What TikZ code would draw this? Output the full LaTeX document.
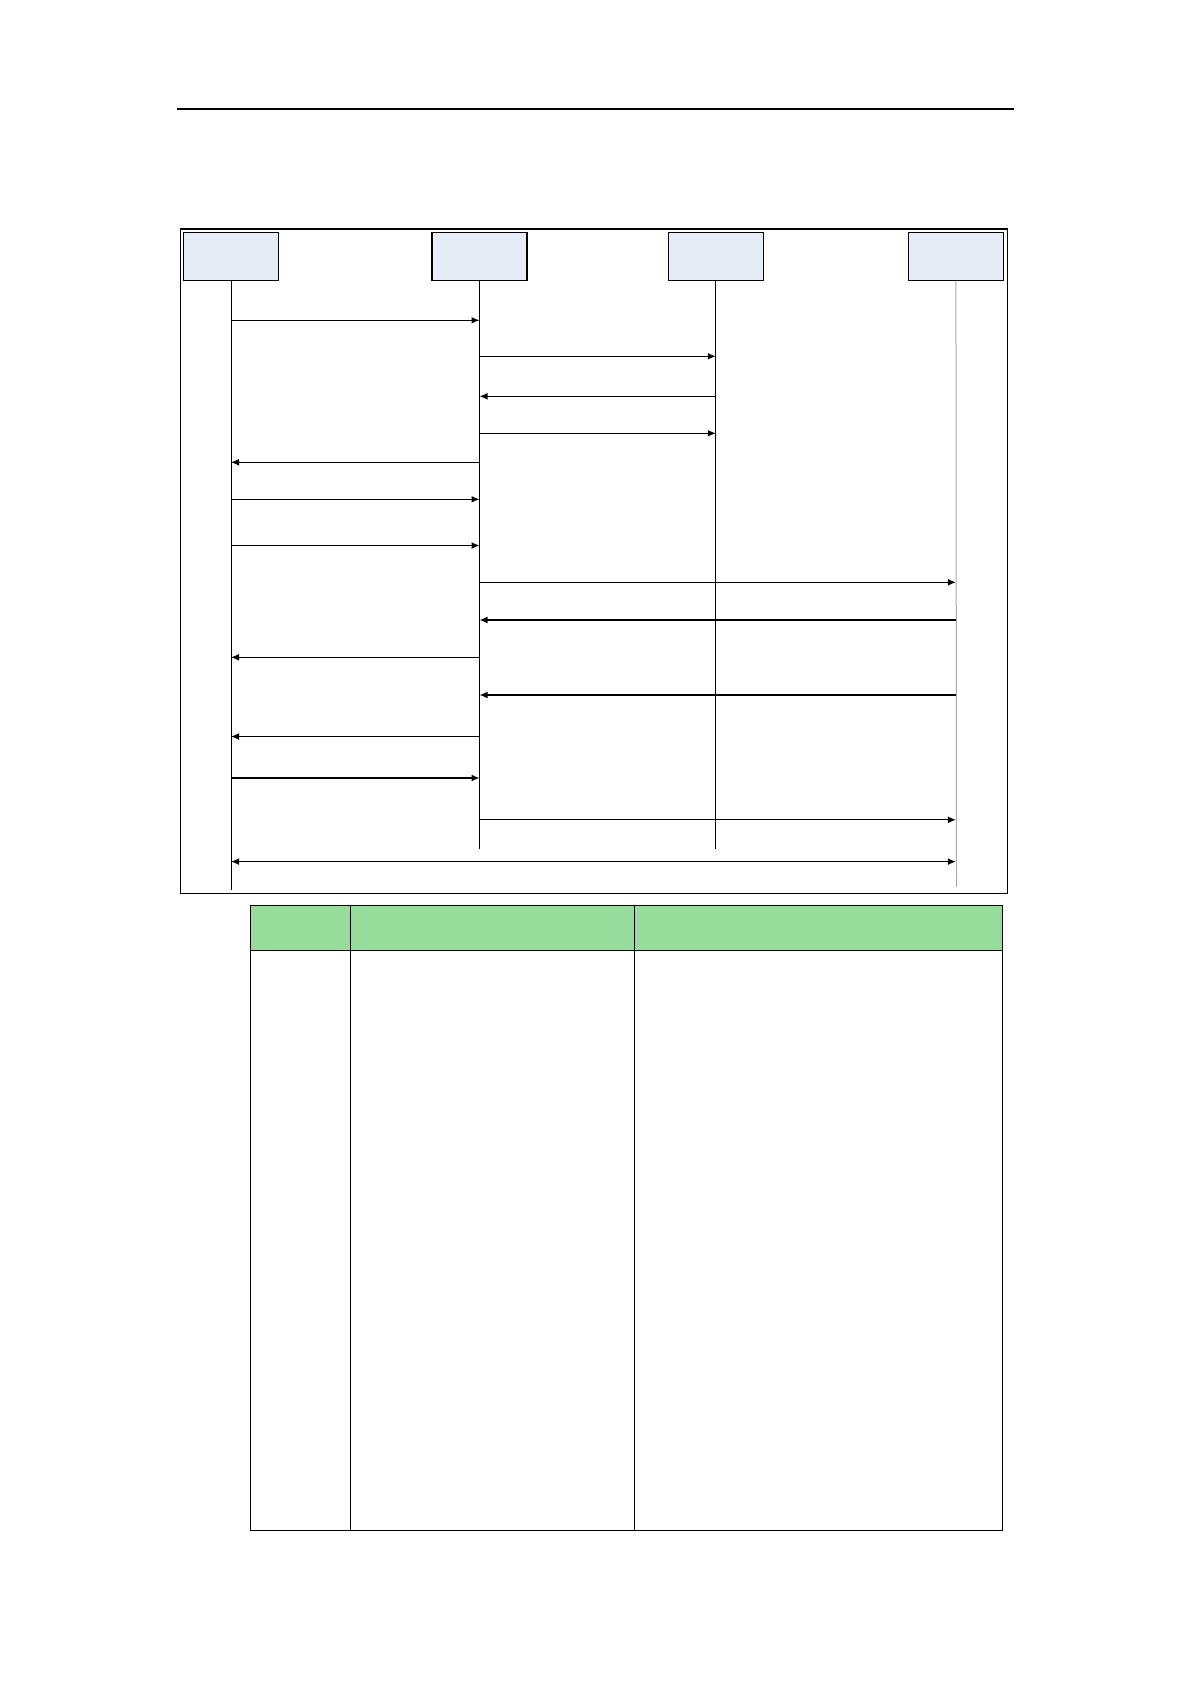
\documentclass[tikz,border=0pt]{standalone}
\usepackage{tikz}
\usetikzlibrary{calc, positioning, arrows.meta}
\usepackage{xcolor}
\definecolor{headBox}{RGB}{230, 236, 246}
\definecolor{headRow}{RGB}{150, 221, 156}
\definecolor{lifeGray}{RGB}{170, 170, 170}

\begin{document}
\begin{tikzpicture}[x=0.5pt, y=-0.5pt, >={Latex[length=4pt, width=3.4pt]},
    actor/.style={draw, line width=0.65pt, fill=headBox, inner sep=0pt,
                  minimum width=47.5pt, minimum height=24pt},
    life/.style={line width=0.5pt},
    msg/.style={->, line width=0.6pt}]
  \useasboundingbox (0,0) rectangle (1191,1684);

  % Page rule
  \draw[line width=0.6pt] (177,109) -- (1014,109);

  % Frame
  \draw[line width=0.55pt] (180.5,229) rectangle (1007.5,893.5);

  % Actors
  \node[actor] (h1) at (231,256.3) {};
  \node[actor] (h2) at (479.5,256.3) {};
  \node[actor] (h3) at (715.8,256.3) {};
  \node[actor] (h4) at (955.9,256.3) {};

  % Lifelines
  \coordinate (e1) at (231,890);
  \coordinate (e2) at (479.5,849);
  \coordinate (e3) at (715.8,849);
  \coordinate (e4) at (956.5,887);
  \draw[life] (h1) -- (e1);
  \draw[life] (h2) -- (e2);
  \draw[life] (h3) -- (e3);
  \draw[life, lifeGray] (h4) -- (e4);

  % Messages
  \draw[msg] (h1 |- 0,320.3) -- (h2 |- 0,320.3);
  \draw[msg] (h2 |- 0,356.3) -- (h3 |- 0,356.3);
  \draw[msg] (h3 |- 0,396.3) -- (h2 |- 0,396.3);
  \draw[msg] (h2 |- 0,433.3) -- (h3 |- 0,433.3);
  \draw[msg] (h2 |- 0,462.3) -- (h1 |- 0,462.3);
  \draw[msg] (h1 |- 0,499.3) -- (h2 |- 0,499.3);
  \draw[msg] (h1 |- 0,545.5) -- (h2 |- 0,545.5);
  \draw[msg] (h2 |- 0,582.3) -- (h4 |- 0,582.3);
  \draw[msg] (h4 |- 0,620) -- (h2 |- 0,620);
  \draw[msg] (h2 |- 0,657.3) -- (h1 |- 0,657.3);
  \draw[msg] (h4 |- 0,695) -- (h2 |- 0,695);
  \draw[msg] (h2 |- 0,736.5) -- (h1 |- 0,736.5);
  \draw[msg] (h1 |- 0,778) -- (h2 |- 0,778);
  \draw[msg] (h2 |- 0,819.8) -- (h4 |- 0,819.8);
  \draw[msg, <->] (h1 |- 0,861.6) -- (h4 |- 0,861.6);

  % Table
  \fill[headRow] (250.3,905.4) rectangle (1002.2,950.5);
  \draw[line width=0.55pt] (250.3,905.4) rectangle (1002.2,1530.7);
  \draw[line width=0.55pt] (250.3,950.5) -- (1002.2,950.5);
  \draw[line width=0.55pt] (350.3,905.4) -- (350.3,1530.7);
  \draw[line width=0.55pt] (634.7,905.4) -- (634.7,1530.7);
\end{tikzpicture}
\end{document}
